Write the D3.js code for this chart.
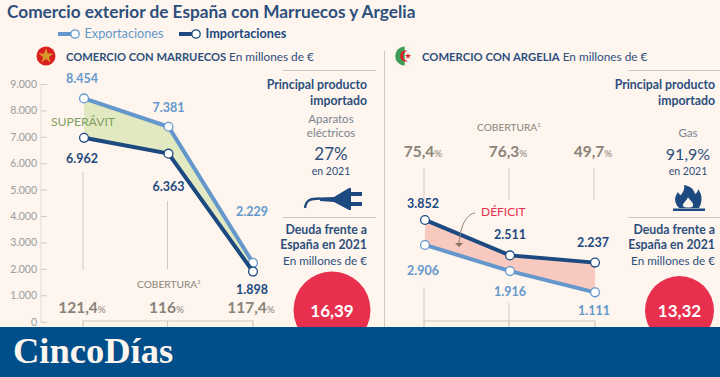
<!DOCTYPE html>
<html>
<head>
<meta charset="utf-8">
<script src="https://cdn.jsdelivr.net/npm/d3@7"></script>
<style>
  html, body { margin: 0; padding: 0; background: #fdf5ee; overflow: hidden; }
  text { font-family: Lato, sans-serif; }
</style>
</head>
<body>
<div id="chart"></div>
<script>
const years = ['2019', '2020', '2021'];
const yTicks = [0, 1000, 2000, 3000, 4000, 5000, 6000, 7000, 8000, 9000];

const marruecosExport = [8454, 7381, 2229];
const marruecosImport = [6962, 6363, 1898];
const marruecosCobertura = ['121,4', '116', '117,4'];

const argeliaExport = [2906, 1916, 1111];
const argeliaImport = [3852, 2511, 2237];
const argeliaCobertura = ['75,4', '76,3', '49,7'];

const colorExport = '#6498cd';
const colorImport = '#1c4a80';
const colorText = '#2d4f7c';
const colorGrey = '#8a8378';
const colorRule = '#cfc8c0';
const colorRed = '#e8304e';

const width = 720, height = 377;
const es = d3.formatLocale({ decimal: ',', thousands: '.', grouping: [3], currency: ['', '€'] }).format(',d');

const svg = d3.select('#chart').append('svg')
  .attr('width', width)
  .attr('height', height);

const y = d3.scaleLinear().domain([0, 9000]).range([321.7, 84]);

function label(x, yPos, str, size, fill, weight, anchor) {
  return svg.append('text')
    .attr('x', x).attr('y', yPos)
    .text(str)
    .style('font-size', size + 'px')
    .style('fill', fill)
    .style('font-weight', weight || 400)
    .style('text-anchor', anchor || 'start');
}

// Title
label(7, 18, 'Comercio exterior de España con Marruecos y Argelia', 17.25, colorText, 700);

// Legend
function legendItem(x, color, str, textColor, weight) {
  svg.append('line').attr('x1', x).attr('x2', x + 16).attr('y1', 34).attr('y2', 34)
    .attr('stroke', color).attr('stroke-width', 4);
  svg.append('circle').attr('cx', x + 17).attr('cy', 34).attr('r', 4.2)
    .attr('fill', '#fff').attr('stroke', color).attr('stroke-width', 1.3);
  label(x + 26.5, 37.8, str, 12.7, textColor, weight);
}
legendItem(58, colorExport, 'Exportaciones', colorExport, 400);
legendItem(179, colorImport, 'Importaciones', colorImport, 700);

// One panel: filled band, two lines, labels, coverage brackets
function drawPanel(opts) {
  const x = d3.scalePoint().domain(years).range(opts.xRange);
  const rows = years.map((yr, i) => ({ yr, exp: opts.exp[i], imp: opts.imp[i] }));

  // Guide lines from the values down to the coverage bracket
  opts.guides.forEach(g => {
    svg.append('line')
      .attr('x1', x(years[g[0]]) - 1).attr('x2', x(years[g[0]]) - 1)
      .attr('y1', g[1]).attr('y2', g[2])
      .attr('stroke', colorRule).attr('stroke-width', 1);
  });
  svg.append('path')
    .attr('d', `M${x(years[0]) - 1},330V321H${x(years[2])}V330`)
    .attr('fill', 'none').attr('stroke', colorRule).attr('stroke-width', 1.2);
  svg.append('line')
    .attr('x1', x(years[1]) - 1).attr('x2', x(years[1]) - 1)
    .attr('y1', 321).attr('y2', 330)
    .attr('stroke', colorRule).attr('stroke-width', 1.2);

  // Band between the series
  const area = d3.area()
    .x(d => x(d.yr))
    .y0(d => y(d.imp))
    .y1(d => y(d.exp));
  svg.append('path').datum(rows).attr('d', area).attr('fill', opts.bandColor);

  // Lines
  ['exp', 'imp'].forEach(key => {
    const color = key === 'exp' ? colorExport : colorImport;
    const line = d3.line().x(d => x(d.yr)).y(d => y(d[key]));
    svg.append('path').datum(rows).attr('d', line)
      .attr('fill', 'none').attr('stroke', color).attr('stroke-width', 4);
    svg.selectAll(null).data(rows).join('circle')
      .attr('cx', d => x(d.yr)).attr('cy', d => y(d[key])).attr('r', 4.4)
      .attr('fill', '#fff').attr('stroke', color).attr('stroke-width', 1.3);
  });

  // Value labels
  rows.forEach((d, i) => {
    label(x(d.yr) + opts.expOff[i][0], opts.expOff[i][1], es(d.exp), 12.5, colorExport, 700, 'middle');
    label(x(d.yr) + opts.impOff[i][0], opts.impOff[i][1], es(d.imp), 12.5, colorImport, 700, 'middle');
  });

  // Coverage percentages
  opts.cobertura.forEach((c, i) => {
    const t = label(x(years[i]) - 2, opts.cobY, c, 15.5, colorGrey, 700, 'middle');
    t.append('tspan').text('%').style('font-size', '10px').style('font-weight', 400);
  });
}

drawPanel({
  xRange: [84, 253],
  exp: marruecosExport, imp: marruecosImport,
  bandColor: '#e2e8c0',
  guides: [[0, 172, 270], [1, 201, 269]],
  expOff: [[-2, 83], [0, 112], [-1, 216]],
  impOff: [[-2, 163], [0, 191], [-1, 294]],
  cobertura: marruecosCobertura,
  cobY: 313
});

drawPanel({
  xRange: [425, 595],
  exp: argeliaExport, imp: argeliaImport,
  bandColor: '#f8c9bf',
  guides: [[0, 168, 200], [1, 168, 200], [2, 168, 200], [0, 287, 321], [1, 303, 321]],
  expOff: [[-2, 275], [0, 296], [-1, 315]],
  impOff: [[-2, 208], [0, 239], [-2, 247]],
  cobertura: argeliaCobertura,
  cobY: 157
});

// Y axis of the left chart
const yAxis = svg.append('g')
  .attr('transform', 'translate(41,0)')
  .call(d3.axisLeft(y).tickValues(yTicks).tickSize(-6).tickPadding(4).tickFormat(es));
yAxis.select('.domain').remove();
yAxis.selectAll('line').attr('stroke', colorRule);
yAxis.selectAll('text').style('font-size', '10.5px').style('fill', '#9a9da0');
svg.append('line').attr('x1', 41).attr('x2', 41).attr('y1', 84).attr('y2', 322)
  .attr('stroke', '#e3ddd6').attr('stroke-width', 1);

// Panel headers
const h1 = label(66, 61, 'COMERCIO CON MARRUECOS', 11.2, colorText, 700);
h1.append('tspan').text(' En millones de €').style('font-weight', 400).style('font-size', '11.8px');
const h2 = label(422, 61, 'COMERCIO CON ARGELIA', 11.3, colorText, 700);
h2.append('tspan').text(' En millones de €').style('font-weight', 400).style('font-size', '11.8px');

// Flags
svg.append('circle').attr('cx', 46).attr('cy', 56).attr('r', 9.5).attr('fill', '#d9201f');
svg.append('path')
  .attr('d', d3.symbol().type(d3.symbolStar).size(70)())
  .attr('transform', 'translate(46,56)')
  .attr('fill', '#d99a2a');
svg.append('circle').attr('cx', 404.7).attr('cy', 56).attr('r', 9.5).attr('fill', '#f6f4ee');
svg.append('path').attr('d', 'M404.7,46.5A9.5,9.5 0 0 0 404.7,65.5Z').attr('fill', '#3f9d58');
svg.append('path').attr('d', 'M408,51A5.5,5.5 0 1 0 408,61A4.6,4.6 0 1 1 408,51Z').attr('fill', '#d9201f');
svg.append('path')
  .attr('d', d3.symbol().type(d3.symbolStar).size(12)())
  .attr('transform', 'translate(408,56)')
  .attr('fill', '#d9201f');

// Rules
[[283, 376, 70.5], [628, 720, 70.5], [283, 376, 217.5], [628, 720, 217.5]].forEach(r => {
  svg.append('line').attr('x1', r[0]).attr('x2', r[1]).attr('y1', r[2]).attr('y2', r[2])
    .attr('stroke', colorRule).attr('stroke-width', 1);
});
svg.append('line').attr('x1', 384.5).attr('x2', 384.5).attr('y1', 51).attr('y2', 327)
  .attr('stroke', colorRule).attr('stroke-width', 1);

// Side columns
function sideColumn(right, center, lines, pct, pctSize) {
  label(right, 89, 'Principal producto', 12.3, colorText, 700, 'end');
  label(right, 104.5, 'importado', 12.3, colorText, 700, 'end');
  lines.forEach(l => label(center, l[1], l[0], 11.5, '#7b848e', 400, 'middle'));
  label(center, 159.5, pct, pctSize, colorText, 400, 'middle');
  label(center, 175, 'en 2021', 10.5, colorText, 400, 'middle');
  label(right, 233.5, 'Deuda frente a', 12.3, colorText, 700, 'end');
  label(right, 248.5, 'España en 2021', 12.3, colorText, 700, 'end');
  label(right, 265, 'En millones de €', 11.7, colorText, 400, 'end');
}
sideColumn(367, 331, [['Aparatos', 123], ['eléctricos', 137]], '27%', 17);
sideColumn(715, 688, [['Gas', 137]], '91,9%', 16);

// Debt circles
svg.append('circle').attr('cx', 332).attr('cy', 310).attr('r', 38.5).attr('fill', colorRed);
label(332, 317, '16,39', 17, '#fff', 700, 'middle');
svg.append('circle').attr('cx', 679.5).attr('cy', 310.5).attr('r', 34.5).attr('fill', colorRed);
label(679.5, 317, '13,32', 17, '#fff', 700, 'middle');

// Plug icon
svg.append('path')
  .attr('d', 'M305,208C306,200 310,198.5 320,198.5')
  .attr('fill', 'none').attr('stroke', colorImport).attr('stroke-width', 2.4);
svg.append('path')
  .attr('d', 'M320,197.5L334,197L349,188H351V192H362V196H351V202H362V206H351V210H349L334,202L320,201Z')
  .attr('fill', colorImport);

// Flame icon
svg.append('path')
  .attr('d', 'M684,185C690,186 694,189 695,194C697,193 698,191 698,189C702,194 703,201 699,208H679C674,203 674,197 678,192C679,194 680,195 681,195C683,192 685,189 684,185Z')
  .attr('fill', colorImport);
svg.append('path')
  .attr('d', 'M688,197C689,200 694,202 693,206C692,208 684,208 683,206C682,203 687,201 688,197Z')
  .attr('fill', '#fdf5ee');
svg.append('rect').attr('x', 673).attr('y', 208.5).attr('width', 32).attr('height', 2.5).attr('fill', colorImport);

// Annotations
label(51, 126, 'SUPERÁVIT', 12.2, '#7f9f62', 400);
label(481, 215.5, 'DÉFICIT', 12, colorRed, 400);
svg.append('path')
  .attr('d', 'M475,213C468,214 461,222 459,243')
  .attr('fill', 'none').attr('stroke', colorGrey).attr('stroke-width', 1);
svg.append('path').attr('d', 'M455,243H463L459,247Z').attr('fill', '#8a7060');

const c1 = label(137, 288, 'COBERTURA', 10.2, colorGrey, 400);
c1.append('tspan').text('1').attr('dy', -4).style('font-size', '6px');
const c2 = label(477, 131, 'COBERTURA', 10.2, colorGrey, 400);
c2.append('tspan').text('1').attr('dy', -4).style('font-size', '6px');

// Banner
svg.append('rect').attr('x', 0).attr('y', 327).attr('width', width).attr('height', 50).attr('fill', '#004f8b');
label(13, 363, 'CincoDías', 36.5, '#fdf5ee', 700).style('font-family', '"Liberation Serif", serif');
</script>
</body>
</html>
